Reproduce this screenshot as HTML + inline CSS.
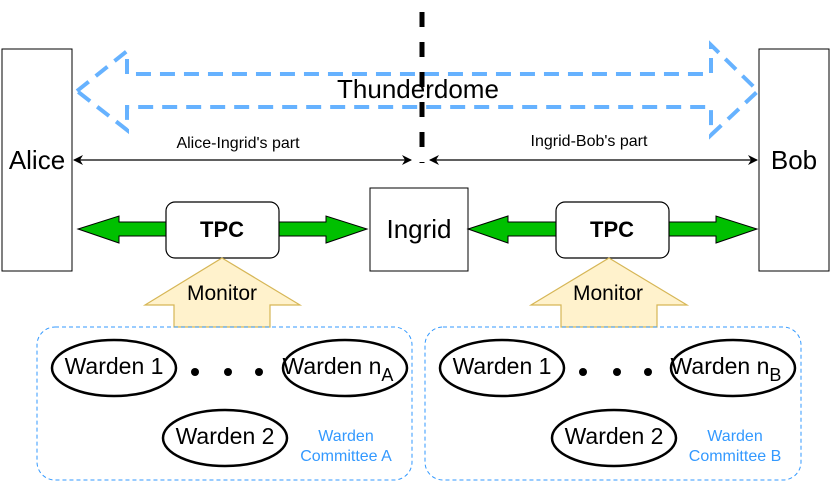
<!DOCTYPE html>
<html><head><meta charset="utf-8"><style>
html,body{margin:0;padding:0;background:#fff;}
svg{display:block;font-family:"Liberation Sans",Arial,sans-serif;}
</style></head><body>
<svg width="831" height="497" viewBox="0 0 831 497" xmlns="http://www.w3.org/2000/svg">
<defs>
<marker id="ah" markerWidth="10" markerHeight="10" refX="9" refY="5" orient="auto-start-reverse" markerUnits="userSpaceOnUse">
<path d="M0,0 L10,5 L0,10 L3,5 Z" fill="#000"/>
</marker>
</defs>
<!-- Thunderdome arrow -->
<path d="M77,91 L127,51 L127,74 L711,74 L711,45 L758,91 L711,135 L711,107 L127,107 L127,130 Z" fill="none" stroke="#66b2ff" stroke-width="4" stroke-dasharray="15,9"/>
<text x="418" y="98" font-size="26" text-anchor="middle">Thunderdome</text>
<!-- vertical dashed line -->
<line x1="422" y1="12" x2="422" y2="163" stroke="#000" stroke-width="5" stroke-dasharray="15,15"/>
<!-- Alice / Bob -->
<rect x="2" y="49" width="70" height="222" fill="#fff" stroke="#000" stroke-width="1"/>
<text x="37" y="169" font-size="26" text-anchor="middle">Alice</text>
<rect x="759" y="49" width="70" height="222" fill="#fff" stroke="#000" stroke-width="1"/>
<text x="794" y="169" font-size="26" text-anchor="middle">Bob</text>
<!-- part arrows -->
<line x1="74" y1="160" x2="411" y2="160" stroke="#000" stroke-width="1.2" marker-start="url(#ah)" marker-end="url(#ah)"/>
<text x="238" y="148" font-size="16" text-anchor="middle">Alice-Ingrid's part</text>
<line x1="430" y1="160" x2="757" y2="160" stroke="#000" stroke-width="1.2" marker-start="url(#ah)" marker-end="url(#ah)"/>
<text x="589" y="146" font-size="16" text-anchor="middle">Ingrid-Bob's part</text>
<!-- Ingrid -->
<rect x="370" y="188" width="98" height="83" fill="#fff" stroke="#000" stroke-width="1"/>
<text x="419" y="238" font-size="26" text-anchor="middle">Ingrid</text>
<!-- green arrows -->
<g fill="#00c000" stroke="#000" stroke-width="1">
<path d="M166,222 L119,222 L119,216 L78,229 L119,243 L119,236 L166,236 Z"/>
<path d="M279,222 L326,222 L326,216 L367,229 L326,243 L326,236 L279,236 Z"/>
<path d="M556,222 L508,222 L508,216 L468,229 L508,243 L508,236 L556,236 Z"/>
<path d="M669,222 L716,222 L716,216 L757,229 L716,243 L716,236 L669,236 Z"/>
</g>
<!-- TPC -->
<rect x="166" y="202" width="113" height="56" rx="9" fill="#fff" stroke="#000" stroke-width="1.2"/>
<text x="222" y="237" font-size="22" font-weight="bold" text-anchor="middle">TPC</text>
<rect x="556" y="202" width="113" height="56" rx="9" fill="#fff" stroke="#000" stroke-width="1.2"/>
<text x="612" y="237" font-size="22" font-weight="bold" text-anchor="middle">TPC</text>
<!-- Monitor arrows -->
<path d="M222,258 L300,305 L270,305 L270,327 L174,327 L174,305 L145,305 Z" fill="#fff2cc" stroke="#d6b656" stroke-width="1.2"/>
<text x="222" y="300" font-size="21" text-anchor="middle">Monitor</text>
<path d="M609,258 L687,305 L657,305 L657,327 L561,327 L561,305 L531,305 Z" fill="#fff2cc" stroke="#d6b656" stroke-width="1.2"/>
<text x="608" y="300" font-size="21" text-anchor="middle">Monitor</text>
<!-- committees -->
<rect x="37" y="327" width="375" height="153" rx="18" fill="none" stroke="#3399ff" stroke-width="1" stroke-dasharray="4,3"/>
<rect x="425" y="327" width="376" height="153" rx="18" fill="none" stroke="#3399ff" stroke-width="1" stroke-dasharray="4,3"/>
<g fill="#fff" stroke="#000" stroke-width="2.5">
<ellipse cx="114" cy="368" rx="62" ry="28"/>
<ellipse cx="345" cy="368" rx="62" ry="28"/>
<ellipse cx="225" cy="438" rx="62" ry="28"/>
<ellipse cx="502" cy="368" rx="62" ry="28"/>
<ellipse cx="733" cy="368" rx="62" ry="28"/>
<ellipse cx="614" cy="438" rx="62" ry="28"/>
</g>
<g font-size="23" text-anchor="middle">
<text x="114" y="374">Warden 1</text>
<text x="338" y="374">Warden n<tspan font-size="18" dy="7">A</tspan></text>
<text x="225" y="444">Warden 2</text>
<text x="502" y="374">Warden 1</text>
<text x="726" y="374">Warden n<tspan font-size="18" dy="7">B</tspan></text>
<text x="614" y="444">Warden 2</text>
</g>
<g fill="#000">
<circle cx="195" cy="372" r="4"/><circle cx="228" cy="372" r="4"/><circle cx="259" cy="372" r="4"/>
<circle cx="583" cy="372" r="4"/><circle cx="617" cy="372" r="4"/><circle cx="648" cy="372" r="4"/>
</g>
<g font-size="16" fill="#3399ff" text-anchor="middle">
<text x="346" y="441">Warden</text><text x="346" y="461">Committee A</text>
<text x="735" y="441">Warden</text><text x="735" y="461">Committee B</text>
</g>
</svg>
</body></html>
